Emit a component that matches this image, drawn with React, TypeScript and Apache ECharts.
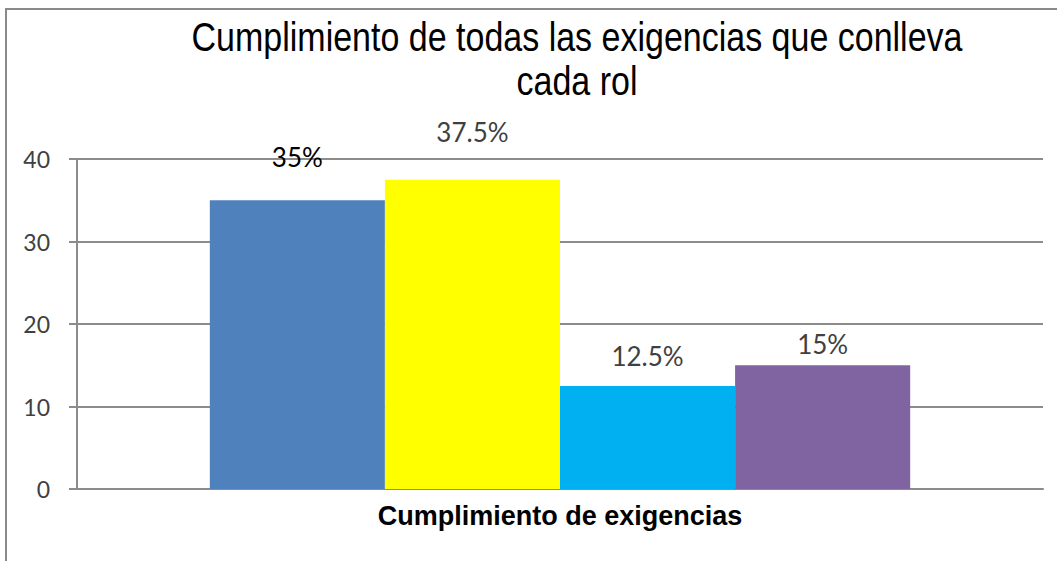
import React, { useEffect, useRef } from "react";
import * as echarts from "echarts";

const titleText = "Cumplimiento de todas las exigencias que conlleva\ncada rol";
const categories = ["Cumplimiento de exigencias"];
const seriesNames = ["Serie 1", "Serie 2", "Serie 3", "Serie 4"];
const seriesValues = [35, 37.5, 12.5, 15];
const seriesLabels = ["35%", "37.5%", "12.5%", "15%"];
const seriesColors = ["#4F81BD", "#FFFF00", "#00B0F0", "#8064A2"];
const labelColors = ["#000000", "#404040", "#404040", "#404040"];
const labelDistances = [30, 35, 17, 8];
const yTicks = { min: 0, max: 40, interval: 10 };

export default function App() {
  const ref = useRef<HTMLDivElement>(null);
  useEffect(() => {
    document.body.style.margin = "0";
    const chart = echarts.init(ref.current!, null, { renderer: "svg" });
    chart.setOption({
      animation: false,
      backgroundColor: "#ffffff",
      graphic: [
        {
          type: "rect",
          shape: { x: 6, y: 9, width: 1200, height: 700 },
          style: { fill: "none", stroke: "#8a8a8a", lineWidth: 2 },
          silent: true,
        },
        {
          type: "text",
          x: 577,
          y: 15,
          scaleX: 0.85,
          silent: true,
          style: {
            text: titleText,
            align: "center",
            verticalAlign: "top",
            fontFamily: "'Liberation Sans', Arial, sans-serif",
            fontSize: 40,
            lineHeight: 44,
            fill: "#000000",
          },
        },
      ],
      grid: { left: 77, right: 14, top: 159, bottom: 72, containLabel: false },
      xAxis: {
        type: "category",
        data: categories,
        axisLine: { show: true, lineStyle: { color: "#8c8c8c", width: 2 } },
        axisTick: { show: false },
        axisLabel: {
          margin: 13,
          fontFamily: "Liberation Sans, Arial, sans-serif",
          fontSize: 27,
          fontWeight: "bold",
          color: "#000000",
        },
      },
      yAxis: {
        type: "value",
        min: yTicks.min,
        max: yTicks.max,
        interval: yTicks.interval,
        axisLine: { show: true, lineStyle: { color: "#8c8c8c", width: 2 } },
        axisTick: { show: true, length: 8, lineStyle: { color: "#8c8c8c", width: 2 } },
        splitLine: { show: true, lineStyle: { color: "#8c8c8c", width: 2 } },
        axisLabel: {
          margin: 27,
          fontFamily: "Lato, sans-serif",
          fontSize: 23,
          color: "#404040",
        },
      },
      series: seriesValues.map((v, i) => ({
        name: seriesNames[i],
        type: "bar",
        data: [v],
        barGap: "0%",
        barCategoryGap: "27.5%",
        itemStyle: { color: seriesColors[i] },
        label: {
          show: true,
          position: "top",
          distance: labelDistances[i],
          formatter: seriesLabels[i],
          fontFamily: "Lato, sans-serif",
          fontSize: 26,
          color: labelColors[i],
        },
      })),
    });
    return () => chart.dispose();
  }, []);
  return <div ref={ref} style={{ width: 1057, height: 561 }} />;
}
